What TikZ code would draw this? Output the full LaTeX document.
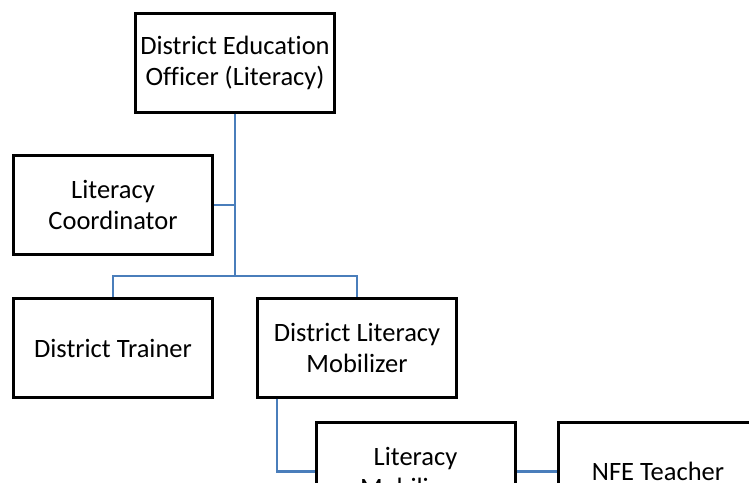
\documentclass[tikz,border=0pt]{standalone}
\usepackage{fontspec}
\setmainfont{Carlito}[Ligatures=NoCommon]
\usepackage{tikz}

\definecolor{linkblue}{RGB}{74,126,187}

\begin{document}
\begin{tikzpicture}[
	x=1pt, y=-1pt,
	post/.style={
		shape=rectangle,
		fill=white,
		draw=black,
		line width=3pt,
		minimum width=199pt,
		minimum height=99pt,
		align=center,
		font=\fontsize{26.5}{31}\selectfont},
	link/.style={draw=linkblue, line width=2.8pt}
	]
	\clip (0,0) rectangle (749,482);
	\useasboundingbox (0,0) rectangle (749,482);
	
	\node[post] (deo) at (235,62.5) {District Education\\Officer (Literacy)};
	\node[post] (coord) at (113,205) {Literacy\\Coordinator};
	\node[post] (trainer) at (113,348) {District Trainer};
	\node[post] (dlm) at (357,347.5) {District Literacy\\Mobilizer};
	\node[post] (lm) at (415.5,471.5) {Literacy\\Mobilizers};
	\node[post] (nfe) at (658,471.5) {NFE Teacher};
	
	\coordinate (split) at (235,276);
	
	\draw[link] (deo.south) -- (split);
	\draw[link] (coord.east) -- (coord.east -| split);
	\draw[link] (trainer.north) |- (split) -| (dlm.north);
	\draw[link] ([xshift=21pt]dlm.south west) |- (lm.west);
	\draw[link] (lm.east) -- (nfe.west);
\end{tikzpicture}
\end{document}
